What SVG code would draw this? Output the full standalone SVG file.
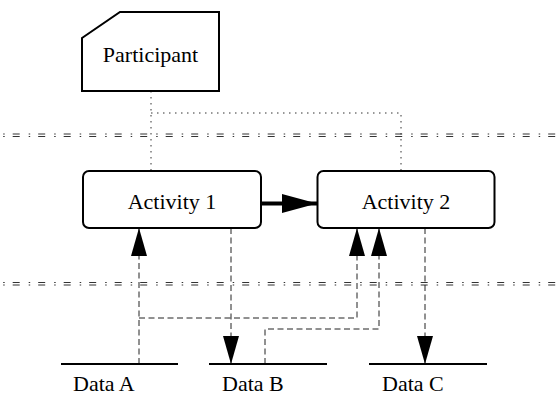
<svg xmlns="http://www.w3.org/2000/svg" width="556" height="419" viewBox="0 0 556 419">
<style>
text{font-family:"Liberation Serif","Times New Roman",serif;font-size:22px;fill:#000}
.node{fill:#fff;stroke:#000;stroke-width:2}
.lane{fill:none;stroke:#333;stroke-width:1;stroke-dasharray:7 9 1.5 8;stroke-dashoffset:12.8}
.dot{fill:none;stroke:#333;stroke-width:1;stroke-dasharray:1.5 4.5}
.dash{fill:none;stroke:#222;stroke-width:1;stroke-dasharray:6 3.5}
.store{stroke:#000;stroke-width:2}
</style>
<defs>
<marker id="ah" markerUnits="userSpaceOnUse" markerWidth="28" markerHeight="16" refX="28" refY="8" orient="auto" overflow="visible">
<path d="M0,0 L28,8 L0,16 Z" fill="#000" stroke="none"/>
</marker>
<marker id="ahb" markerUnits="userSpaceOnUse" markerWidth="35" markerHeight="20" refX="35" refY="9.5" orient="auto" overflow="visible">
<path d="M0,0 L35,9.5 L0,19 Z" fill="#000" stroke="none"/>
</marker>
</defs>
<g id="lanes">
<line class="lane" x1="0" y1="134" x2="556" y2="134"/>
<line class="lane" x1="0" y1="136.5" x2="556" y2="136.5"/>
<line class="lane" x1="0" y1="282.5" x2="556" y2="282.5"/>
<line class="lane" x1="0" y1="285" x2="556" y2="285"/>
</g>
<g id="connectors">
<path class="dot" d="M151,91 V171"/>
<path class="dot" d="M151,113 H401 V171"/>
<path class="dash" d="M139,364 V228" marker-end="url(#ah)"/>
<path class="dash" d="M139,318 H357 V228" marker-end="url(#ah)"/>
<path class="dash" d="M265,364 V329 H379 V228" marker-end="url(#ah)"/>
<path class="dash" d="M231,228 V364" marker-end="url(#ah)"/>
<path class="dash" d="M425,228 V364" marker-end="url(#ah)"/>
<path d="M262,203.5 H317" fill="none" stroke="#000" stroke-width="4" marker-end="url(#ahb)"/>
</g>
<g id="participant">
<polygon class="node" points="82,38 120,12 219,12 219,91 82,91"/>
<text x="150.5" y="62" text-anchor="middle">Participant</text>
</g>
<g id="activity1">
<rect class="node" x="83" y="171" width="178" height="57" rx="6"/>
<text x="172" y="209" text-anchor="middle">Activity 1</text>
</g>
<g id="activity2">
<rect class="node" x="317.5" y="171" width="177" height="57" rx="6"/>
<text x="406" y="209" text-anchor="middle">Activity 2</text>
</g>
<g id="dataA">
<line class="store" x1="61" y1="364" x2="178" y2="364"/>
<text x="73" y="391">Data A</text>
</g>
<g id="dataB">
<line class="store" x1="209" y1="364" x2="327" y2="364"/>
<text x="222" y="391">Data B</text>
</g>
<g id="dataC">
<line class="store" x1="369" y1="364" x2="487" y2="364"/>
<text x="382" y="391">Data C</text>
</g>
</svg>
